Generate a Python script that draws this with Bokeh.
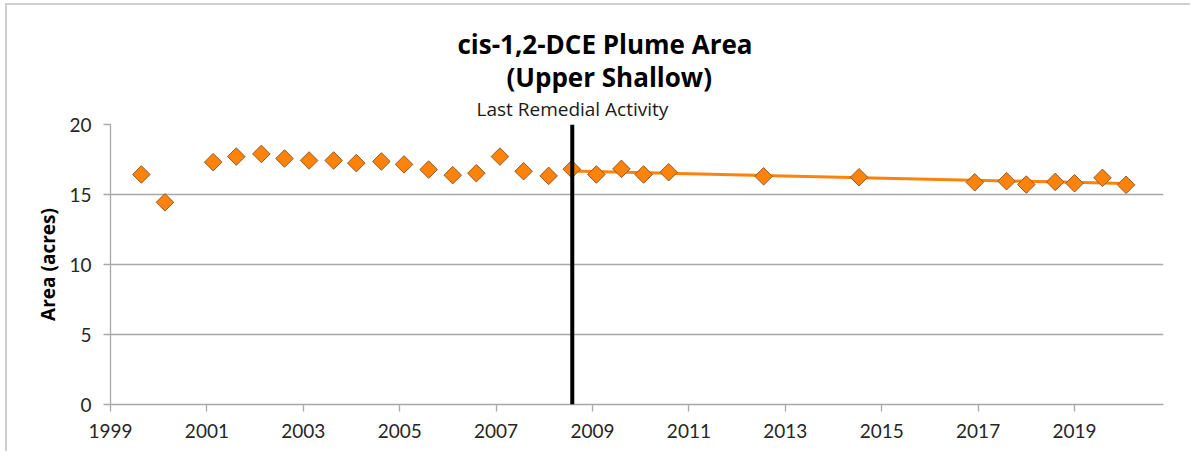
from bokeh.plotting import figure
from bokeh.models import Span, Title, FixedTicker
from bokeh.embed import file_html
from bokeh.resources import INLINE

# ---- data ----
years = [1999.64, 2000.13, 2001.13, 2001.61, 2002.13, 2002.61, 2003.12, 2003.63,
         2004.10, 2004.62, 2005.09, 2005.60, 2006.10, 2006.59, 2007.08, 2007.57,
         2008.09, 2008.57, 2009.08, 2009.60, 2010.06, 2010.58, 2012.55, 2014.53,
         2016.93, 2017.59, 2018.00, 2018.60, 2019.00, 2019.58, 2020.07]
area = [16.43, 14.44, 17.31, 17.71, 17.90, 17.57, 17.43, 17.43,
        17.24, 17.36, 17.15, 16.78, 16.38, 16.52, 17.71, 16.66,
        16.33, 16.81, 16.43, 16.83, 16.43, 16.59, 16.30, 16.23,
        15.87, 15.95, 15.71, 15.90, 15.80, 16.19, 15.69]
trend_years = [2008.57, 2020.07]
trend_area = [16.67, 15.78]
remedial_year = 2008.58
x_ticks = [1999, 2001, 2003, 2005, 2007, 2009, 2011, 2013, 2015, 2017, 2019]
y_ticks = [0, 5, 10, 15, 20]
title_lines = ["cis-1,2-DCE Plume Area", "(Upper Shallow)"]
annotation_text = "Last Remedial Activity"

FONT = "Lato"
TFONT = "Open Sans"
ORANGE = "#FF820A"

p = figure(width=1185, height=448, output_backend="svg", toolbar_location=None,
           x_range=(1999, 2020.846), y_range=(0, 20),
           min_border_left=103, min_border_right=29, min_border_top=119,
           min_border_bottom=49)
p.styles = {"margin-left": "5px", "margin-top": "3px",
            "border-left": "2px solid #cfcfcf", "border-top": "2px solid #cfcfcf"}
p.outline_line_color = None
p.background_fill_color = "white"
p.border_fill_color = "white"

# grid
p.xgrid.grid_line_color = None
p.ygrid.grid_line_color = "#a8a8a8"
p.ygrid.grid_line_width = 1.3
p.ygrid.ticker = FixedTicker(ticks=y_ticks)

# axes
for ax in (p.xaxis[0], p.yaxis[0]):
    ax.axis_line_color = "#a8a8a8"
    ax.axis_line_width = 1.3
    ax.major_tick_line_color = "#a8a8a8"
    ax.major_tick_line_width = 1.3
    ax.major_tick_out = 7
    ax.major_tick_in = 0
    ax.minor_tick_line_color = None
    ax.major_label_text_font = FONT
    ax.major_label_text_font_size = "19px"
    ax.major_label_text_color = "#262626"

p.xaxis.ticker = FixedTicker(ticks=x_ticks)
p.yaxis.ticker = FixedTicker(ticks=y_ticks)
p.xaxis.major_label_standoff = 12
p.yaxis.major_label_standoff = 12
p.yaxis.axis_label = "Area (acres)"
p.yaxis.axis_label_text_font = TFONT
p.yaxis.axis_label_text_font_style = "bold"
p.yaxis.axis_label_text_font_size = "19px"
p.yaxis.axis_label_text_color = "#000000"
p.yaxis.axis_label_standoff = 5

# trend line
p.line(trend_years, trend_area, line_color=ORANGE, line_width=3)

# vertical marker for last remedial activity
p.add_layout(Span(location=remedial_year, dimension="height",
                  line_color="black", line_width=4))

# data points (diamonds)
p.scatter(years, area, marker="square", angle=0.785398, size=12.4,
          fill_color=ORANGE, line_color="#8f5c2c", line_width=1)

# annotation + titles (stacked above the plot frame)
p.add_layout(Title(text=annotation_text, align="left", offset=366,
                   text_font=TFONT, text_font_size="19px", text_font_style="normal",
                   text_color="#1a1a1a", standoff=5), "above")
p.add_layout(Title(text=title_lines[1], align="left", offset=396,
                   text_font=TFONT, text_font_size="26px", text_font_style="bold",
                   text_color="#000000", standoff=-6), "above")
p.add_layout(Title(text=title_lines[0], align="left", offset=347,
                   text_font=TFONT, text_font_size="26px", text_font_style="bold",
                   text_color="#000000", standoff=-4), "above")

open("out.html", "w").write(file_html(p, INLINE))
